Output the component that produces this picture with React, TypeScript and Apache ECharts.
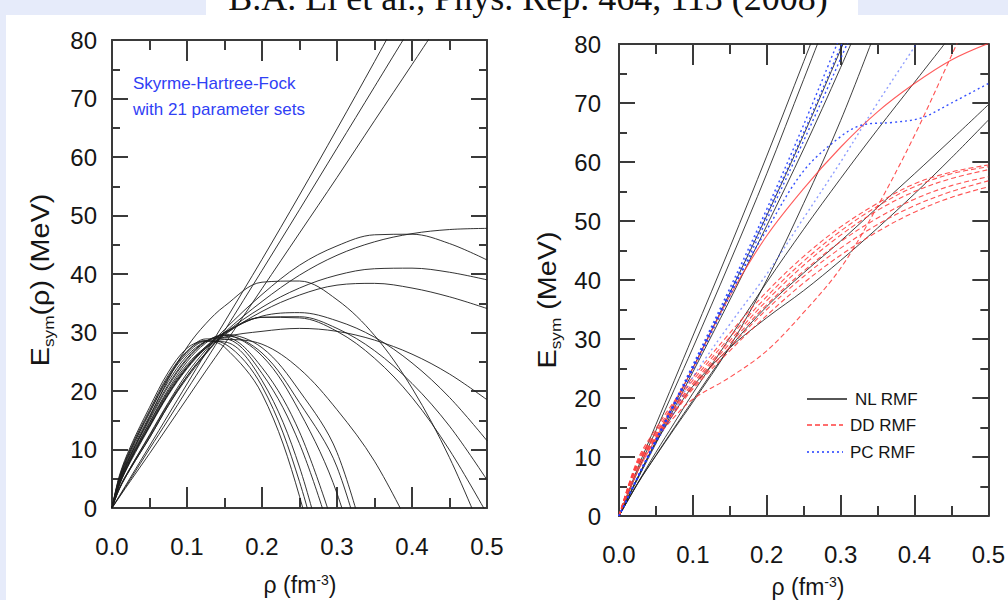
import React, { useEffect, useRef } from "react";
import * as echarts from "echarts";

// ---------------- Left panel: Skyrme-Hartree-Fock (21 parameter sets) ----------------
const RHO_L = [0, 0.01, 0.025, 0.05, 0.075, 0.1, 0.125, 0.15, 0.2, 0.25, 0.3, 0.35, 0.4, 0.45, 0.5];

const SHF_A1 = [0, 2.1, 5.3, 10.6, 15.9, 21.2, 26.5, 31.8, 42.5, 53.5, 64.8, 76.3, 88];
const SHF_A2 = [0, 2.0, 5.0, 10.1, 15.1, 20.2, 25.2, 30.3, 40.6, 51.0, 61.5, 72.0, 82.5];
const SHF_A3 = [0, 1.9, 4.7, 9.3, 14.0, 18.7, 23.4, 28.0, 37.5, 47.0, 56.5, 66.2, 75.8, 85.5];
const SHF_P1 = [0, 3.5, 7.0, 12.5, 18.0, 23.0, 27.0, 30.5, 36.5, 41.5, 44.8, 46.7, 46.8, 45.2, 42.4];
const SHF_P2 = [0, 3.3, 6.8, 12.0, 17.5, 22.5, 26.5, 30.0, 35.3, 39.8, 43.2, 45.5, 46.9, 47.6, 47.8];
const SHF_P3 = [0, 3.3, 6.8, 12.0, 17.5, 22.2, 26.3, 29.8, 34.3, 37.6, 39.8, 40.9, 41.0, 40.3, 39.0];
const SHF_P4 = [0, 3.4, 7.0, 12.3, 17.8, 22.5, 26.5, 29.6, 33.6, 36.4, 38.1, 38.4, 37.6, 36.1, 34.1];
const SHF_P5 = [0, 4.5, 9.0, 15.5, 22.0, 27.5, 31.5, 34.5, 38.6, 38.8, 35.6, 29.5, 20.5, 8.6, -6.2];
const SHF_M1 = [0, 4.0, 8.2, 14.0, 19.5, 24.0, 27.5, 30.0, 32.8, 33.4, 32.0, 29.2, 24.8, 18.9, 11.5];
const SHF_M2 = [0, 4.0, 8.0, 13.8, 19.3, 23.8, 27.3, 29.8, 32.6, 32.7, 30.7, 26.9, 21.3, 14.0, 4.8];
const SHF_M3 = [0, 4.1, 8.3, 14.2, 19.8, 24.2, 27.6, 30.0, 32.6, 32.5, 30.2, 25.6, 18.9, 9.9, -1.0];
const SHF_F = [0, 4.2, 8.5, 14.5, 20.0, 24.5, 27.5, 29.2, 30.2, 30.7, 30.2, 28.7, 26.3, 22.9, 18.5];
const SHF_K = [0, 4.3, 8.5, 14.0, 19.5, 24.0, 27.3, 28.8, 28.0, 23.8, 16.8, 8.0, -4.0];
const SHF_L1 = [0, 5.6, 10.6, 17.2, 23.2, 27.3, 28.6, 27.5, 19.5, 2.0, -25];
const SHF_L2 = [0, 5.4, 10.3, 16.7, 22.7, 26.8, 28.6, 28.1, 20.8, 4.5, -20];
const SHF_L3 = [0, 5.1, 9.9, 16.2, 22.2, 26.4, 28.5, 28.4, 21.8, 7.0, -17];
const SHF_L4 = [0, 5.2, 10.0, 16.4, 22.4, 26.7, 28.9, 28.9, 23.0, 11.0, -8];
const SHF_L5 = [0, 4.9, 9.6, 15.7, 21.6, 26.0, 28.5, 29.2, 24.0, 13.0, -5];
const SHF_L6 = [0, 4.8, 9.3, 15.3, 21.1, 25.6, 28.5, 29.5, 26.0, 16.5, 2.5, -20];
const SHF_L7 = [0, 4.6, 9.1, 15.0, 20.8, 25.4, 28.4, 29.5, 26.5, 18.0, 7.0, -15];
const SHF_L8 = [0, 4.5, 8.8, 14.6, 20.3, 25.0, 28.2, 29.7, 27.4, 20.0, 9.5, -12];

const SHF_SETS = [
  SHF_A1, SHF_A2, SHF_A3, SHF_P1, SHF_P2, SHF_P3, SHF_P4, SHF_P5, SHF_M1, SHF_M2, SHF_M3,
  SHF_F, SHF_K, SHF_L1, SHF_L2, SHF_L3, SHF_L4, SHF_L5, SHF_L6, SHF_L7, SHF_L8,
];

// ---------------- Right panel: RMF models ----------------
const RHO_R = [0, 0.025, 0.05, 0.075, 0.1, 0.15, 0.2, 0.25, 0.3, 0.35, 0.4, 0.45, 0.5];

// NL RMF (black solid)
const NL_1 = [0, 8.0, 15.5, 23.0, 30.5, 45.5, 61.0, 77.0, 93];
const NL_2 = [0, 7.5, 14.5, 21.5, 28.5, 43.0, 58.0, 74.0, 90];
const NL_3 = [0, 6.4, 12.7, 18.9, 25.1, 37.8, 50.9, 64.6, 79.0, 93.5];
const NL_4 = [0, 6.2, 12.3, 18.3, 24.4, 36.6, 49.2, 62.2, 76.0, 90.5];
const NL_5 = [0, 5.5, 10.2, 14.8, 19.3, 28.7, 40.0, 53.0, 67.0, 83];
const NL_6 = [0, 5.5, 10.8, 15.8, 20.8, 30.2, 39.6, 48.6, 57.2, 65.5, 73.5, 81.5];
const NL_7 = [0, 5.4, 10.3, 15.0, 19.6, 28.5, 35.5, 41.2, 46.6, 52.3, 58.0, 63.8, 69.7];
const NL_8 = [0, 6.5, 12.5, 17.5, 22.0, 28.5, 33.6, 38.2, 43.3, 48.8, 54.6, 60.7, 67.1];
const NL_SETS = [NL_1, NL_2, NL_3, NL_4, NL_5, NL_6, NL_7, NL_8];

// DD RMF (red dashed)
const DD_1 = [0, 9.5, 14.8, 19.5, 23.5, 31.0, 38.0, 44.0, 49.0, 53.0, 56.3, 58.3, 59.5];
const DD_2 = [0, 9.2, 14.3, 19.0, 23.0, 30.3, 37.2, 43.2, 48.3, 52.5, 55.8, 58.0, 59.2];
const DD_3 = [0, 9.0, 14.0, 18.5, 22.5, 29.7, 36.5, 42.5, 47.6, 51.8, 55.0, 57.2, 58.7];
const DD_4 = [0, 8.8, 13.7, 18.2, 22.2, 29.2, 35.8, 41.5, 46.5, 50.5, 53.7, 56.0, 57.5];
const DD_5 = [0, 8.6, 13.4, 17.8, 21.8, 28.6, 35.0, 40.6, 45.4, 49.4, 52.6, 55.0, 56.8];
const DD_6 = [0, 8.5, 13.2, 17.5, 21.5, 28.0, 34.0, 39.5, 44.2, 48.2, 51.5, 54.0, 55.8];
const DD_7 = [0, 8.0, 13.0, 16.8, 19.8, 23.5, 28.0, 34.5, 42.0, 52.5, 64.5, 78.0, 92];
const DD_SETS = [DD_1, DD_2, DD_3, DD_4, DD_5, DD_6, DD_7];
// red solid curve
const RED_SOLID = [0, 7.5, 13.2, 19.3, 25.0, 37.3, 47.5, 55.5, 62.5, 68.5, 73.3, 77.3, 80.1];

// PC RMF (blue dotted)
const PC_1 = [0, 6.6, 13.0, 19.3, 25.6, 38.6, 52.0, 66.3, 81.5];
const PC_2 = [0, 6.5, 12.8, 19.0, 25.2, 38.0, 51.2, 65.0, 79.5, 94];
const PC_3 = [0, 6.4, 12.6, 18.8, 24.8, 37.3, 50.2, 63.6, 77.5, 92];
const PC_4 = [0, 6.3, 12.3, 17.8, 23.5, 32.5, 41.0, 50.5, 60.0, 70.0, 79.5, 89];
const PC_SETS = [PC_1, PC_2, PC_3, PC_4];
const RHO_PCK = [0, 0.025, 0.05, 0.1, 0.15, 0.2, 0.25, 0.3, 0.33, 0.37, 0.41, 0.45, 0.5];
const PC_KINK = [0, 6.5, 12.8, 25.2, 37.8, 48.5, 58.5, 64.3, 66.3, 66.7, 67.5, 70.0, 73.3];

const X_TICKS = [0, 0.1, 0.2, 0.3, 0.4, 0.5];
const Y_TICKS = [0, 10, 20, 30, 40, 50, 60, 70, 80];

const FONT = "'Liberation Sans', Arial, Helvetica, sans-serif";
const AXC = "#3a3a3a";
const BLACK = "#1e1e1e";
const RED = "#ff3f3f";
const BLUE = "#1f3dff";

const pairs = (xs: number[], ys: number[]) => ys.map((y, i) => [xs[i], y]);

function line(data: number[][], ax: number, color: string, type: any, width = 1, opacity = 1, z = 2) {
  return {
    type: "line",
    data,
    xAxisIndex: ax,
    yAxisIndex: ax,
    showSymbol: false,
    symbol: "none",
    smooth: 0.35,
    clip: true,
    silent: true,
    z,
    lineStyle: { color, width, type, opacity },
  };
}

function makeX(gridIndex: number, position: string, labels: boolean, margin: number) {
  return {
    type: "value",
    gridIndex,
    position,
    min: X_TICKS[0],
    max: X_TICKS[X_TICKS.length - 1],
    interval: X_TICKS[1] - X_TICKS[0],
    axisLine: { show: true, onZero: false, lineStyle: { color: AXC, width: 2 } },
    axisTick: { show: true, inside: true, length: 21, lineStyle: { color: AXC, width: 2 } },
    minorTick: { show: true, splitNumber: 2, length: 10, lineStyle: { color: AXC, width: 2 } },
    splitLine: { show: false },
    minorSplitLine: { show: false },
    axisLabel: {
      show: labels,
      margin,
      fontSize: 24,
      color: "#151515",
      fontFamily: FONT,
      formatter: (v: number) => v.toFixed(1),
    },
  };
}

function makeY(gridIndex: number, position: string, labels: boolean, margin: number) {
  return {
    type: "value",
    gridIndex,
    position,
    min: Y_TICKS[0],
    max: Y_TICKS[Y_TICKS.length - 1],
    interval: Y_TICKS[1] - Y_TICKS[0],
    axisLine: { show: true, onZero: false, lineStyle: { color: AXC, width: 2 } },
    axisTick: { show: true, inside: true, length: 16, lineStyle: { color: AXC, width: 2 } },
    minorTick: { show: true, splitNumber: 2, length: 8, lineStyle: { color: AXC, width: 2 } },
    splitLine: { show: false },
    minorSplitLine: { show: false },
    axisLabel: { show: labels, margin, fontSize: 24, color: "#151515", fontFamily: FONT },
  };
}

export default function App() {
  const ref = useRef<HTMLDivElement>(null);

  useEffect(() => {
    if (!ref.current) return;
    const chart = echarts.init(ref.current, undefined, { renderer: "svg" });

    const series: any[] = [];
    SHF_SETS.forEach((s) => series.push(line(pairs(RHO_L, s), 0, BLACK, "solid", 1, 0.9)));
    NL_SETS.forEach((s) => series.push(line(pairs(RHO_R, s), 2, BLACK, "solid", 1, 0.85, 2)));
    DD_SETS.forEach((s) => series.push(line(pairs(RHO_R, s), 2, RED, [5, 3], 1.1, 0.9, 3)));
    series.push(line(pairs(RHO_R, RED_SOLID), 2, RED, "solid", 1.1, 0.85, 3));
    PC_SETS.forEach((s, i) =>
      series.push(line(pairs(RHO_R, s), 2, BLUE, [2, 3], 1.4, i === 3 ? 0.5 : 0.9, 4))
    );
    series.push(line(pairs(RHO_PCK, PC_KINK), 2, BLUE, [2, 3], 1.4, 0.9, 4));

    const subRich = (size: number, lh: number) => ({
      m: { fontSize: size, fontFamily: FONT, fill: "#151515", lineHeight: lh, verticalAlign: "middle" },
      s: { fontSize: 15, fontFamily: FONT, fill: "#151515", verticalAlign: "bottom" },
      p: { fontSize: 14, fontFamily: FONT, fill: "#151515", verticalAlign: "top" },
    });

    const legendItem = (y: number, color: string, dash: any, label: string, x1: number, tx: number) => [
      {
        type: "line",
        shape: { x1: 807, y1: y, x2: x1, y2: y },
        style: { stroke: color, lineWidth: 1.4, lineDash: dash },
      },
      {
        type: "text",
        x: tx,
        y,
        style: { text: label, fontSize: 17, fontFamily: FONT, fill: "#151515", textVerticalAlign: "middle", verticalAlign: "middle" },
      },
    ];

    const yTitle = (x: number, y: number, text: string) => ({
      type: "text",
      x,
      y,
      rotation: Math.PI / 2,
      scaleX: 1.15,
      scaleY: 1,
      style: {
        text,
        rich: subRich(25, 30),
        textAlign: "center",
        textVerticalAlign: "middle",
        align: "center",
        verticalAlign: "middle",
      },
    });

    const xTitle = (x: number, y: number) => ({
      type: "text",
      x,
      y,
      style: {
        text: "{m|ρ (fm}{p|-3}{m|)}",
        rich: subRich(23, 24),
        textAlign: "center",
        textVerticalAlign: "middle",
        align: "center",
        verticalAlign: "middle",
      },
    });

    chart.setOption({
      animation: false,
      backgroundColor: "transparent",
      grid: [
        { left: 112, top: 40, width: 375, height: 468, containLabel: false },
        { left: 619, top: 44, width: 373, height: 472, containLabel: false },
      ],
      xAxis: [makeX(0, "bottom", true, 26), makeX(0, "top", false, 8), makeX(1, "bottom", true, 26), makeX(1, "top", false, 8)],
      yAxis: [makeY(0, "left", true, 15), makeY(0, "right", false, 8), makeY(1, "left", true, 18), makeY(1, "right", false, 8)],
      series,
      graphic: [
        {
          type: "text",
          x: 528,
          y: -2,
          style: {
            text: "B.A. Li et al., Phys. Rep. 464, 113 (2008)",
            fontSize: 36,
            fontFamily: "'Liberation Serif', 'Times New Roman', serif",
            fill: "#111",
            textAlign: "center",
            textVerticalAlign: "middle",
            align: "center",
            verticalAlign: "middle",
          },
        },
        {
          type: "text",
          x: 133,
          y: 83,
          style: { text: "Skyrme-Hartree-Fock", fontSize: 17, fontFamily: FONT, fill: "#3040f5", textVerticalAlign: "middle", verticalAlign: "middle" },
        },
        {
          type: "text",
          x: 133,
          y: 109,
          style: { text: "with 21 parameter sets", fontSize: 17, fontFamily: FONT, fill: "#3040f5", textVerticalAlign: "middle", verticalAlign: "middle" },
        },
        yTitle(41, 280, "{m|E}{s|sym}{m|(ρ) (MeV)}"),
        yTitle(548, 300, "{m|E}{s|sym}{m| (MeV)}"),
        xTitle(300, 585),
        xTitle(808, 587),
        ...legendItem(399, BLACK, null, "NL RMF", 847, 855),
        ...legendItem(425, RED, [5, 3], "DD RMF", 843, 850),
        ...legendItem(452, BLUE, [2, 3], "PC RMF", 843, 850),
      ],
    });

    return () => chart.dispose();
  }, []);

  return (
    <div style={{ position: "fixed", left: 0, top: 0, width: 1008, height: 600, background: "#e6ebfa", overflow: "hidden" }}>
      <div style={{ position: "absolute", left: 6, top: 15, width: 1002, height: 585, background: "#ffffff" }} />
      <div style={{ position: "absolute", left: 206, top: 0, width: 652, height: 15, background: "#ffffff" }} />
      <div ref={ref} style={{ position: "absolute", left: 0, top: 0, width: 1008, height: 600 }} />
    </div>
  );
}
